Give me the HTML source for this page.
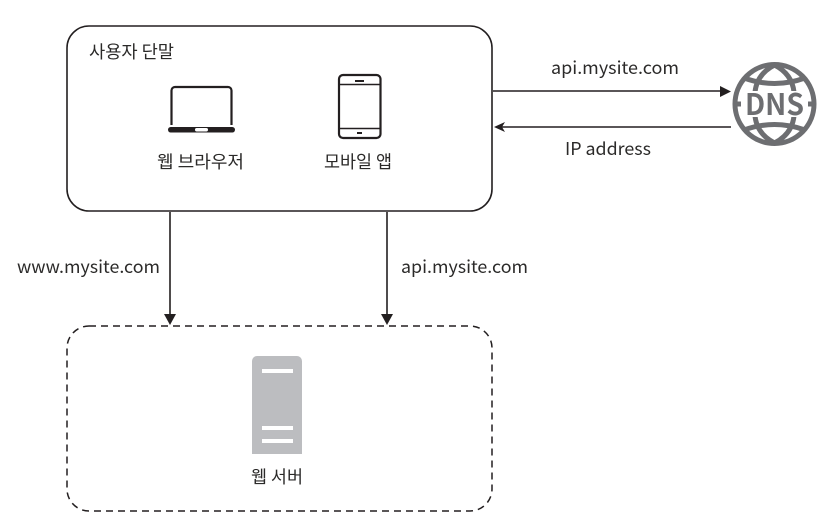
<!DOCTYPE html>
<html><head><meta charset="utf-8">
<style>
html,body{margin:0;padding:0;background:#fff;width:837px;height:526px;overflow:hidden}
svg{display:block}
text{font-family:"Noto Sans CJK KR","Liberation Sans",sans-serif;font-size:17.5px;fill:#2b2a29}
</style></head><body>
<svg width="837" height="526" viewBox="0 0 837 526" xmlns="http://www.w3.org/2000/svg">
<rect width="837" height="526" fill="#fff"/>
<!-- user box -->
<rect x="67" y="26" width="425" height="185" rx="22" fill="none" stroke="#231f20" stroke-width="1.6"/>
<!-- server box -->
<rect x="67" y="326" width="425" height="185" rx="22" fill="none" stroke="#231f20" stroke-width="1.5" stroke-dasharray="7 5"/>
<!-- laptop -->
<path d="M171.5 125V90.5a3.5 3.5 0 0 1 3.5-3.5h53a3.5 3.5 0 0 1 3.5 3.5V125" fill="none" stroke="#231f20" stroke-width="2.2"/>
<rect x="168" y="127" width="67" height="5.5" rx="2.7" fill="#231f20"/>
<rect x="195" y="128" width="13" height="3.5" rx="1.7" fill="#fff"/>
<!-- phone -->
<rect x="339" y="75" width="41.5" height="63" rx="4" fill="none" stroke="#231f20" stroke-width="2.2"/>
<line x1="339" y1="84.5" x2="380.5" y2="84.5" stroke="#231f20" stroke-width="1.5"/>
<line x1="339" y1="128.5" x2="380.5" y2="128.5" stroke="#231f20" stroke-width="1.5"/>
<rect x="355" y="80" width="9" height="2" fill="#231f20"/>
<rect x="357" y="132" width="5" height="2" fill="#231f20"/>
<!-- server -->
<path d="M252 454V361a5 5 0 0 1 5-5h40a5 5 0 0 1 5 5v93z" fill="#bcbdc0"/>
<rect x="262" y="369" width="31" height="4" fill="#fff"/>
<rect x="262" y="426" width="31" height="4" fill="#fff"/>
<rect x="262" y="439" width="31" height="4" fill="#fff"/>
<!-- arrows -->
<line x1="493" y1="91" x2="722" y2="91" stroke="#231f20" stroke-width="1.6"/>
<path d="M731 91.5L720 86V97z" fill="#231f20"/>
<line x1="500" y1="127" x2="731" y2="127" stroke="#231f20" stroke-width="1.6"/>
<path d="M494 127L505 122L502 127L505 132z" fill="#231f20"/>
<line x1="170" y1="212" x2="170" y2="318" stroke="#231f20" stroke-width="1.6"/>
<path d="M170 325L164 314H176z" fill="#231f20"/>
<line x1="387" y1="212" x2="387" y2="318" stroke="#231f20" stroke-width="1.6"/>
<path d="M387 325L381 314H393z" fill="#231f20"/>
<!-- DNS globe -->
<g fill="none" stroke="#6d6e71" stroke-width="5">
<circle cx="774.5" cy="104" r="39.5"/>
<path d="M744 78Q774.5 89 805 78"/>
<path d="M744 130Q774.5 119 805 130"/>
<path d="M774.5 65Q757 74 755 92"/>
<path d="M774.5 65Q792 74 794 92"/>
<path d="M774.5 143Q757 134 755 116"/>
<path d="M774.5 143Q792 134 794 116"/>
<path d="M735 104H741M808 104H814"/>
</g>
<rect x="744" y="91" width="61" height="26" fill="#fff"/>
<text x="745" y="115" style="font-size:30px;font-weight:700;fill:#6d6e71" textLength="59" lengthAdjust="spacingAndGlyphs">DNS</text>
<!-- labels -->
<text x="89" y="58" textLength="85" lengthAdjust="spacingAndGlyphs">사용자 단말</text>
<text x="157" y="168" textLength="87" lengthAdjust="spacingAndGlyphs">웹 브라우저</text>
<text x="324" y="168" textLength="68" lengthAdjust="spacingAndGlyphs">모바일 앱</text>
<text x="251" y="483" textLength="52" lengthAdjust="spacingAndGlyphs">웹 서버</text>
<text x="551" y="74" textLength="128" lengthAdjust="spacingAndGlyphs">api.mysite.com</text>
<text x="565" y="155" textLength="86" lengthAdjust="spacingAndGlyphs">IP address</text>
<text x="17" y="273" textLength="143" lengthAdjust="spacingAndGlyphs">www.mysite.com</text>
<text x="401" y="273" textLength="127" lengthAdjust="spacingAndGlyphs">api.mysite.com</text>
</svg>
</body></html>
